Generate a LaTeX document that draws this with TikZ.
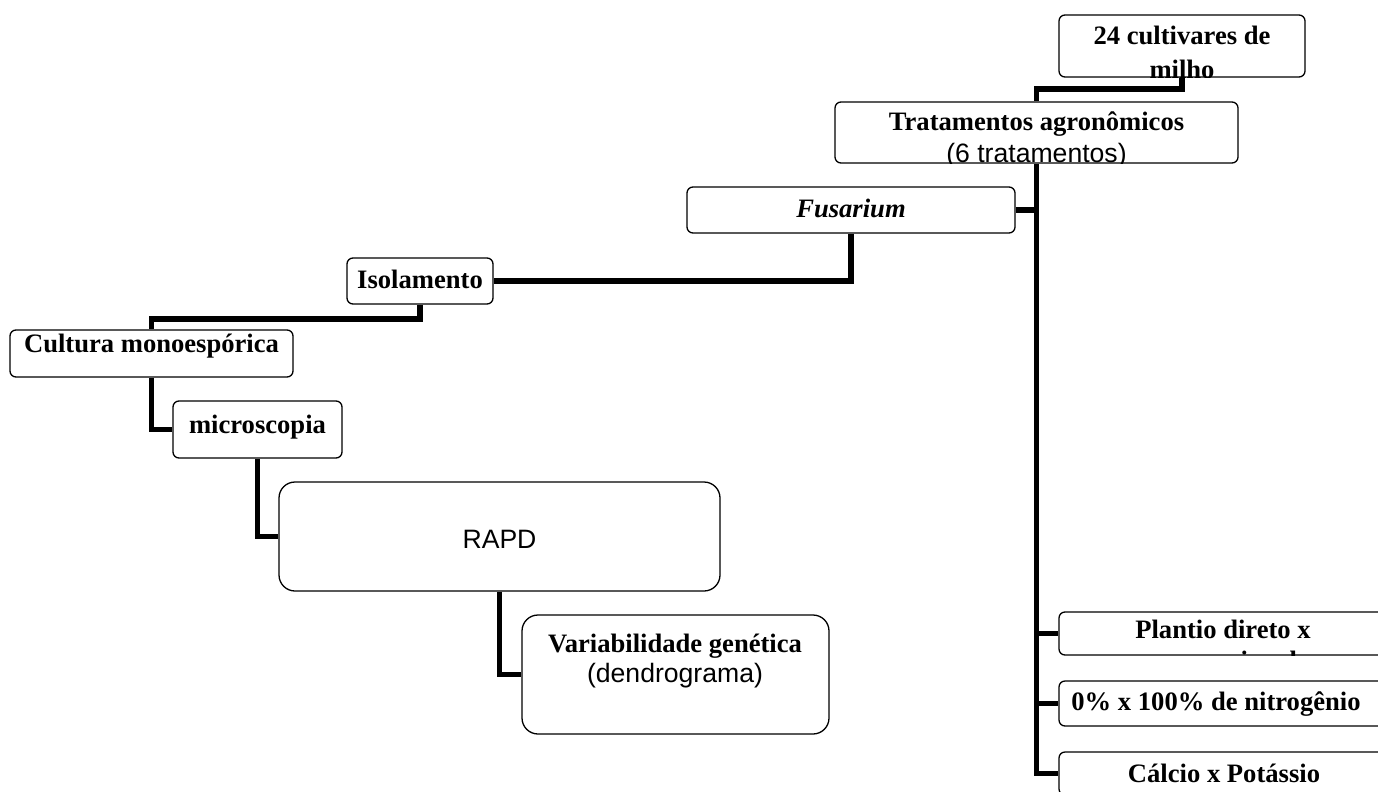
\documentclass[tikz,border=0pt]{standalone}
\usepackage{fontspec}
\setmainfont{Liberation Serif}
\setsansfont{Liberation Sans}
\begin{document}
\begin{tikzpicture}[x=1pt,y=-1pt,
  every node/.style={font=\fontsize{26.6}{31}\selectfont},
  box/.style={draw=black, line width=1.3pt, fill=white, rounded corners=6pt, inner sep=0pt},
  bigbox/.style={box, rounded corners=16pt},
  txt/.style={anchor=base, inner sep=0pt},
  wire/.style={line width=5.8pt, line join=miter}]
\useasboundingbox (0,0) rectangle (1378,792);
\clip (0,0) rectangle (1378,792);

% boxes
\node[box, minimum width=246pt, minimum height=62pt] (cult24) at (1182,46) {};
\node[box, minimum width=403pt, minimum height=61pt] (trat) at (1036.5,132.5) {};
\node[box, minimum width=328pt, minimum height=46pt] (fus) at (851,210) {};
\node[box, minimum width=146pt, minimum height=46pt] (iso) at (420,281) {};
\node[box, minimum width=283pt, minimum height=47pt] (cult) at (151.5,353.5) {};
\node[box, minimum width=169pt, minimum height=57pt] (micro) at (257.5,429.5) {};
\node[bigbox, minimum width=441pt, minimum height=109pt] (rapd) at (499.5,536.5) {};
\node[bigbox, minimum width=307pt, minimum height=119pt] (var) at (675.5,674.5) {};
\node[box, minimum width=327pt, minimum height=43pt] (plant) at (1222.5,633.5) {};
\node[box, minimum width=327pt, minimum height=45pt] (nitro) at (1222.5,703.5) {};
\node[box, minimum width=327pt, minimum height=43pt] (calc) at (1222.5,773.5) {};

% connectors
\draw[wire] (cult24.south) -- ++(0,11) -| (trat.north);
\draw[wire] (trat.south) |- (calc.west);
\draw[wire] (trat.south |- plant.west) -- (plant.west);
\draw[wire] (trat.south |- nitro.west) -- (nitro.west);
\draw[wire] (fus.east) -- (trat.south |- fus.east);
\draw[wire] (fus.south) |- (iso.east);
\draw[wire] (iso.south) -- ++(0,14) -| (cult.north);
\draw[wire] (cult.south) |- (micro.west);
\draw[wire] (micro.south) |- (rapd.west);
\draw[wire] (rapd.south) |- (var.west);

% texts cut off by their boxes
\begin{scope}
  \clip ([shift={(0.6pt,0.6pt)}]cult24.south west) rectangle ([shift={(-0.6pt,-0.6pt)}]cult24.north east);
  \node[txt] (cult24-a) at (1182,45) {\bfseries 24 cultivares de};
  \node[txt] (cult24-b) at (1182,78) {\bfseries milho};
\end{scope}
\begin{scope}
  \clip ([shift={(0.6pt,0.6pt)}]trat.south west) rectangle ([shift={(-0.6pt,-0.6pt)}]trat.north east);
  \node[txt] (trat-a) at (1036.5,130) {\bfseries Tratamentos agronômicos};
  \node[txt] (trat-b) at (1036.5,162) {\sffamily (6 tratamentos)};
\end{scope}
\begin{scope}
  \clip ([shift={(0.6pt,0.6pt)}]plant.south west) rectangle ([shift={(-0.6pt,-0.6pt)}]plant.north east);
  \node[txt] (plant-a) at (1223,638) {\bfseries Plantio direto x};
  \node[txt] (plant-b) at (1223,669) {\bfseries convencional};
\end{scope}

% remaining texts
\node[txt] (fus-t) at (851,217) {\bfseries\itshape Fusarium};
\node[txt] (iso-t) at (420,288) {\bfseries Isolamento};
\node[txt] (cult-t) at (151.5,352) {\bfseries Cultura monoespórica};
\node[txt] (micro-t) at (257.5,433) {\bfseries microscopia};
\node[txt] (rapd-t) at (499.5,548) {\sffamily RAPD};
\node[txt] (var-a) at (675,652) {\bfseries Variabilidade genética};
\node[txt] (var-b) at (675,682) {\sffamily (dendrograma)};
\node[txt] (nitro-t) at (1216,710) {\bfseries 0\% x 100\% de nitrogênio};
\node[txt] (calc-t) at (1224,782) {\bfseries Cálcio x Potássio};
\end{tikzpicture}
\end{document}
